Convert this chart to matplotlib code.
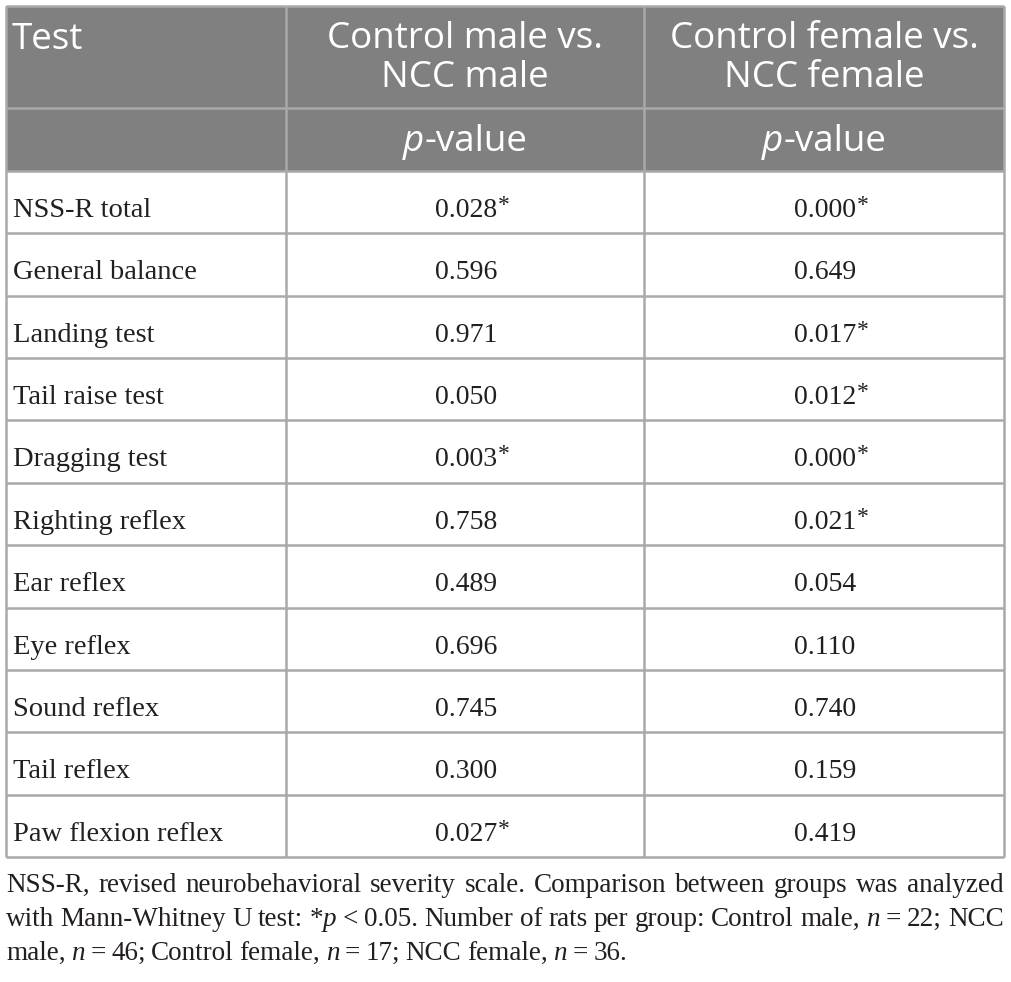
import matplotlib
matplotlib.use("Agg")
import matplotlib.pyplot as plt
from matplotlib.patches import Rectangle

# table content
tests = ["NSS-R total", "General balance", "Landing test", "Tail raise test",
         "Dragging test", "Righting reflex", "Ear reflex", "Eye reflex",
         "Sound reflex", "Tail reflex", "Paw flexion reflex"]
male_p = [0.028, 0.596, 0.971, 0.050, 0.003, 0.758, 0.489, 0.696, 0.745, 0.300, 0.027]
female_p = [0.000, 0.649, 0.017, 0.012, 0.000, 0.021, 0.054, 0.110, 0.740, 0.159, 0.419]
col_headers = ["Control male vs.\nNCC male", "Control female vs.\nNCC female"]
first_header = "Test"
sub_header = ("p", "-value")

# footnote lines; pieces between | are italic
foot_lines = [
    "NSS-R, revised neurobehavioral severity scale. Comparison between groups was analyzed",
    "with Mann-Whitney U test: *|p| < 0.05. Number of rats per group: Control male, |n| = 22; NCC",
    "male, |n| = 46; Control female, |n| = 17; NCC female, |n| = 36.",
]

W, H = 1011, 982
fig = plt.figure(figsize=(W / 100, H / 100), dpi=100)
ax = fig.add_axes([0, 0, 1, 1])
ax.set_xlim(0, W)
ax.set_ylim(H, 0)
ax.axis("off")

left, right = 6, 1004
top, h1, h2 = 6, 108, 171
bottom = 857
col_x = [left, 286, 644, right]
n = len(tests)
row_h = (bottom - h2) / n

head_bg = "#808080"
line_c = "#a9a9a9"
txt_c = "#231f20"
sans = "Open Sans"
serif = "Liberation Serif"
lw = 1.8
hfs = 26.5

ax.add_patch(Rectangle((left, top), right - left, h2 - top, color=head_bg, lw=0, zorder=0))

# grid
for y in [top, h1, h2] + [h2 + row_h * i for i in range(1, n + 1)]:
    ax.plot([left, right], [y, y], color=line_c, lw=lw, solid_capstyle="butt", zorder=2)
for x in col_x:
    ax.plot([x, x], [top, bottom], color=line_c, lw=lw, solid_capstyle="butt", zorder=2)

# header text
ax.text(12, 49, first_header, color="white", fontsize=hfs, family=sans, va="baseline", ha="left")
for j, hdr in enumerate(col_headers):
    cx = (col_x[j + 1] + col_x[j + 2]) / 2
    for k, line in enumerate(hdr.split("\n")):
        ax.text(cx, 48 + 39 * k, line, color="white", fontsize=hfs, family=sans,
                va="baseline", ha="center")

fig.canvas.draw()
renderer = fig.canvas.get_renderer()


def width_of(t):
    return t.get_window_extent(renderer=renderer).width


for j in range(2):
    cx = (col_x[j + 1] + col_x[j + 2]) / 2
    t1 = ax.text(0, 151, sub_header[0], color="white", fontsize=hfs, family=sans,
                 style="italic", va="baseline", ha="left")
    t2 = ax.text(0, 151, sub_header[1], color="white", fontsize=hfs, family=sans,
                 va="baseline", ha="left")
    w1, w2 = width_of(t1), width_of(t2)
    x0 = cx - (w1 + w2) / 2
    t1.set_x(x0)
    t2.set_x(x0 + w1)

# body
for i, name in enumerate(tests):
    by = h2 + row_h * i + 46
    ax.text(13, by, name, color=txt_c, fontsize=20.5, family=serif, va="baseline", ha="left")
    for j, vals in enumerate([male_p, female_p]):
        cx = (col_x[j + 1] + col_x[j + 2]) / 2 + 1
        t = ax.text(cx, by, f"{vals[i]:.3f}", color=txt_c, fontsize=20, family=serif,
                    va="baseline", ha="center")
        if vals[i] < 0.05:
            bb = t.get_window_extent(renderer=renderer)
            ax.text(bb.x1 + 0.5, by - 6, "*", color=txt_c, fontsize=17, family=serif,
                    va="baseline", ha="left")

# justified footnote
base_y = [892, 926, 960]
fs = 19.5
for li, line in enumerate(foot_lines):
    words = line.split(" ")
    objs = []
    widths = []
    for w in words:
        pieces = w.split("|")
        wobjs = []
        ww = 0
        for pi, p in enumerate(pieces):
            if p == "":
                continue
            t = ax.text(0, base_y[li], p, color=txt_c, fontsize=fs, family=serif,
                        style="italic" if pi % 2 == 1 else "normal",
                        va="baseline", ha="left")
            wobjs.append((t, ww))
            ww += width_of(t)
        objs.append(wobjs)
        widths.append(ww)
    if li < len(foot_lines) - 1:
        gap = (right - left - sum(widths)) / (len(words) - 1)
    else:
        gap = 5.5
    x = left
    for wobjs, ww in zip(objs, widths):
        for t, off in wobjs:
            t.set_x(x + off)
        x += ww + gap

fig.savefig("out.png", dpi=100, facecolor="white")
